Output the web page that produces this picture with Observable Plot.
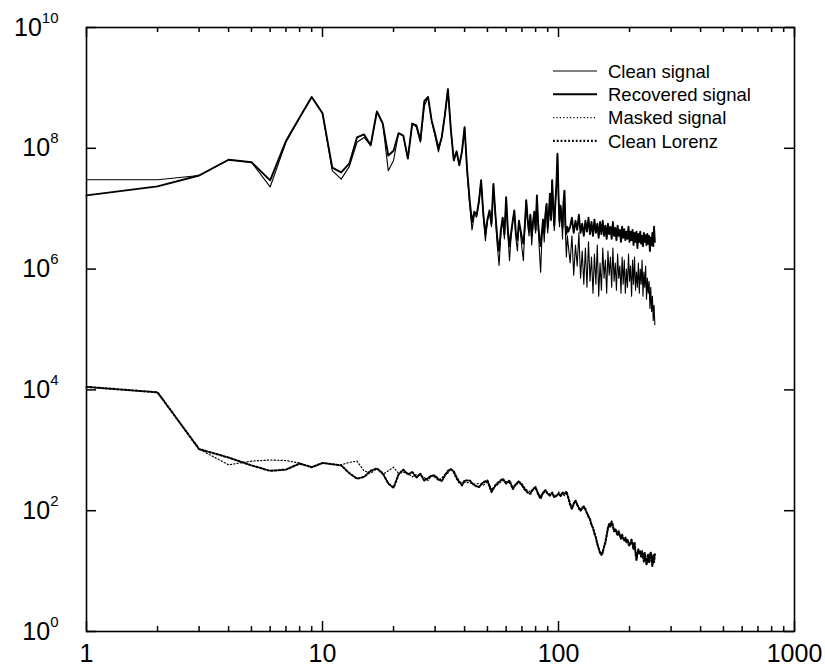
<!DOCTYPE html>
<html>
<head>
<meta charset="utf-8">
<script src="https://cdn.jsdelivr.net/npm/d3@7"></script>
<script src="https://cdn.jsdelivr.net/npm/@observablehq/plot@0.6"></script>
<style>
  html, body { margin: 0; padding: 0; background: #fff; }
  #chart svg { display: block; }
</style>
</head>
<body>
<div id="chart"></div>
<script>
// ---------------- DATA (values stored as log10 of power) ----------------
const upperFreq = [
  1,2,3,4,5,6,7,8,9,10,11,12,13,14,15,16,17,18,19,20,
  21,22,23,24,25,26,27,28,29,30,31,32,33,34,35,36,37,38,39,40,
  41,42,43,44,45,46,47,48,49,50,51,52,53,54,55,56,57,58,59,60,
  61,62,63,64,65,66,67,68,69,70,71,72,73,74,75,76,77,78,79,80,
  81,82,83,84,85,86,87,88,89,90,91,92,93,94,95,96,97,98,99,100,
  101,102,103,104,105,106,107,108,109,110,
  112,114,116,118,120,122,124,126,128,130,132,134,136,138,140,142,144,146,148,150,
  152,154,156,158,160,162,164,166,168,170,172,174,176,178,180,182,184,186,188,190,
  192,194,196,198,200,202,204,206,208,210,212,214,216,218,220,222,224,226,228,230,
  232,234,236,238,240,242,244,246,248,250,252,254,256
];
const cleanSignalLog = [
  7.48,7.48,7.55,7.81,7.77,7.36,8.10,8.51,8.85,8.58,7.63,7.49,7.70,8.10,8.18,8.05,8.61,8.41,7.63,7.80,
  8.25,8.21,7.83,8.41,8.35,8.10,8.70,8.85,8.46,8.20,7.94,8.18,8.55,8.98,8.30,7.80,7.95,7.72,7.95,8.35,
  7.60,7.09,6.65,6.90,6.86,7.10,7.47,6.90,6.47,6.80,6.97,6.70,7.41,6.90,6.40,6.06,6.60,6.85,6.50,7.19,
  6.60,6.14,6.55,6.80,6.97,6.50,6.30,6.80,6.60,6.35,6.14,6.70,7.14,6.80,6.55,6.90,6.40,6.75,6.95,6.60,
  7.22,6.70,6.30,5.95,6.50,6.80,6.45,6.90,7.08,6.60,6.90,7.25,6.80,7.47,7.00,6.64,7.10,7.40,7.91,7.20,
  6.70,7.05,6.86,6.50,7.10,7.30,6.60,6.20,6.55,6.40,
  6.10,6.55,5.90,6.40,6.05,6.60,5.85,6.30,5.75,6.35,5.70,6.45,5.80,6.20,5.60,6.25,5.75,6.40,5.55,6.10,
  5.65,6.35,5.85,6.15,5.60,6.30,5.90,6.20,5.70,6.35,5.80,6.10,5.65,6.25,5.85,6.05,5.60,6.20,5.75,6.15,
  5.60,6.00,5.70,6.25,5.80,6.05,5.55,6.15,5.75,6.20,5.65,5.95,5.70,6.10,5.60,6.00,5.75,6.15,5.55,5.95,
  5.70,6.05,5.50,5.85,5.60,5.80,5.35,5.70,5.30,5.55,5.15,5.40,5.08
];
const recoveredSignalLog = [
  7.22,7.37,7.55,7.81,7.77,7.47,8.12,8.51,8.85,8.58,7.68,7.60,7.75,8.18,8.23,8.05,8.61,8.41,7.88,7.96,
  8.25,8.21,7.83,8.41,8.38,8.13,8.78,8.85,8.46,8.24,8.00,8.18,8.55,8.98,8.30,7.80,7.95,7.72,7.95,8.35,
  7.65,7.15,6.78,6.95,6.90,7.12,7.47,6.92,6.58,6.82,6.97,6.75,7.41,6.92,6.52,6.30,6.65,6.85,6.58,7.19,
  6.65,6.38,6.60,6.80,6.97,6.58,6.48,6.80,6.65,6.52,6.42,6.72,7.14,6.82,6.62,6.90,6.55,6.78,6.95,6.65,
  7.22,6.75,6.52,6.38,6.60,6.82,6.60,6.90,7.08,6.68,6.90,7.25,6.82,7.47,7.02,6.72,7.10,7.40,7.91,7.22,
  6.78,7.05,6.88,6.68,7.10,7.30,6.72,6.58,6.70,6.62,
  6.70,6.85,6.60,6.80,6.65,6.90,6.60,6.75,6.55,6.80,6.62,6.85,6.58,6.78,6.55,6.82,6.60,6.75,6.52,6.78,
  6.58,6.80,6.55,6.72,6.50,6.75,6.58,6.70,6.50,6.78,6.55,6.68,6.48,6.72,6.55,6.65,6.45,6.70,6.52,6.66,
  6.48,6.62,6.50,6.70,6.45,6.62,6.48,6.65,6.40,6.60,6.45,6.62,6.35,6.58,6.45,6.62,6.42,6.55,6.38,6.60,
  6.45,6.56,6.40,6.58,6.42,6.55,6.30,6.52,6.40,6.60,6.38,6.70,6.45
];

const lowerFreq = [
  1,2,3,4,5,6,7,8,9,10,11,12,13,14,15,16,17,18,19,20,
  21,22,23,24,25,26,27,28,29,30,31,32,33,34,35,36,37,38,39,40,
  42,44,46,48,50,52,54,56,58,60,62,64,66,68,70,72,74,76,78,80,
  82,84,86,88,90,92,94,96,98,100,102,104,106,108,110,112,114,116,118,120,
  122,124,126,128,130,132,134,136,138,140,142,144,146,148,150,152,154,156,158,160,
  162,164,166,168,170,172,174,176,178,180,182,184,186,188,190,192,194,196,198,200,
  202,204,206,208,210,212,214,216,218,220,222,224,226,228,230,232,234,236,238,240,
  242,244,246,248,250,252,254,256
];
const cleanLorenzLog = [
  4.05,3.96,3.02,2.88,2.75,2.66,2.68,2.78,2.72,2.79,2.77,2.75,2.62,2.53,2.56,2.66,2.70,2.62,2.45,2.38,
  2.60,2.68,2.60,2.64,2.55,2.61,2.50,2.54,2.58,2.58,2.52,2.49,2.58,2.66,2.69,2.65,2.55,2.48,2.42,2.50,
  2.50,2.42,2.39,2.47,2.50,2.31,2.42,2.48,2.53,2.45,2.50,2.36,2.44,2.49,2.42,2.35,2.30,2.28,2.36,2.39,
  2.27,2.20,2.30,2.34,2.28,2.25,2.30,2.22,2.25,2.28,2.24,2.30,2.27,2.32,2.22,2.10,2.03,2.12,2.17,2.10,
  2.05,2.00,2.05,2.07,2.02,1.96,1.90,1.86,1.76,1.72,1.62,1.56,1.45,1.38,1.30,1.27,1.32,1.40,1.48,1.60,
  1.72,1.78,1.74,1.82,1.76,1.66,1.70,1.64,1.60,1.66,1.58,1.55,1.60,1.54,1.50,1.56,1.48,1.52,1.45,1.42,
  1.48,1.52,1.44,1.36,1.48,1.30,1.18,1.30,1.36,1.28,1.34,1.24,1.32,1.26,1.16,1.30,1.22,1.10,1.20,1.28,
  1.14,1.24,1.32,1.18,1.08,1.26,1.15,1.28
];
const maskedSignalLog = [
  4.05,3.96,3.02,2.76,2.82,2.84,2.83,2.79,2.72,2.79,2.77,2.76,2.80,2.82,2.66,2.62,2.70,2.60,2.66,2.72,
  2.62,2.64,2.62,2.56,2.60,2.58,2.55,2.50,2.58,2.55,2.50,2.54,2.60,2.62,2.69,2.62,2.52,2.45,2.46,2.47,
  2.46,2.44,2.45,2.42,2.48,2.36,2.40,2.45,2.50,2.48,2.46,2.40,2.42,2.47,2.45,2.38,2.33,2.32,2.34,2.36,
  2.30,2.24,2.28,2.32,2.30,2.27,2.28,2.26,2.23,2.31,2.27,2.28,2.25,2.30,2.20,2.14,2.06,2.10,2.14,2.12,
  2.02,2.04,2.02,2.05,2.06,1.94,1.93,1.84,1.80,1.70,1.66,1.54,1.48,1.36,1.33,1.30,1.28,1.43,1.45,1.56,
  1.68,1.74,1.80,1.78,1.72,1.70,1.66,1.68,1.62,1.63,1.60,1.52,1.57,1.56,1.53,1.52,1.50,1.49,1.48,1.45,
  1.44,1.50,1.46,1.40,1.44,1.34,1.22,1.26,1.32,1.30,1.30,1.28,1.35,1.22,1.20,1.26,1.25,1.14,1.16,1.24,
  1.18,1.20,1.28,1.22,1.12,1.22,1.20,1.24
];

const xMajorTicks = [1, 10, 100, 1000];
const xMinorTicks = [2,3,4,5,6,7,8,9,20,30,40,50,60,70,80,90,200,300,400,500,600,700,800,900];
const yMajorExponents = [0, 2, 4, 6, 8, 10];
const legendLabels = ["Clean signal", "Recovered signal", "Masked signal", "Clean Lorenz"];

// ---------------- TABLES ----------------
const upper = upperFreq.map((f, i) => ({f, clean: 10 ** cleanSignalLog[i], rec: 10 ** recoveredSignalLog[i]}));
const lower = lowerFreq.map((f, i) => ({f, lorenz: 10 ** cleanLorenzLog[i], masked: 10 ** maskedSignalLog[i]}));
const yMajorTicks = yMajorExponents.map(e => 10 ** e);

const styles = [
  {strokeWidth: 1.1, strokeDasharray: null},
  {strokeWidth: 1.9, strokeDasharray: null},
  {strokeWidth: 1.2, strokeDasharray: "1.2 2.2"},
  {strokeWidth: 2.1, strokeDasharray: "1.8 2"}
];

const font = "'Liberation Sans', Arial, Helvetica, sans-serif";

const W = 825, H = 666, ML = 86, MR = 31, MT = 27, MB = 35;
const frameW = W - ML - MR, frameH = H - MT - MB;

// inward ticks: tickX / tickY spanning the frame, inset so only a short stub remains at one edge
const tickX = (values, side, len) => Plot.tickX(values, {
  x: d => d, stroke: "black", strokeWidth: 1.5,
  insetTop: side === "bottom" ? frameH - len : 0,
  insetBottom: side === "top" ? frameH - len : 0
});
const tickY = (values, side, len) => Plot.tickY(values, {
  y: d => d, stroke: "black", strokeWidth: 1.5,
  insetRight: side === "left" ? frameW - len : 0,
  insetLeft: side === "right" ? frameW - len : 0
});

const svg = Plot.plot({
  width: W,
  height: H,
  marginLeft: ML,
  marginRight: MR,
  marginTop: MT,
  marginBottom: MB,
  style: {fontFamily: font, background: "white", color: "black"},
  x: {type: "log", domain: [1, 1000], axis: null},
  y: {type: "log", domain: [1, 1e10], axis: null},
  marks: [
    // series
    Plot.line(lower, {x: "f", y: "masked", stroke: "black", ...styles[2]}),
    Plot.line(lower, {x: "f", y: "lorenz", stroke: "black", ...styles[3]}),
    Plot.line(upper, {x: "f", y: "clean", stroke: "black", ...styles[0]}),
    Plot.line(upper, {x: "f", y: "rec", stroke: "black", ...styles[1]}),
    // inward ticks on all four sides
    tickX(xMajorTicks, "bottom", 10),
    tickX(xMinorTicks, "bottom", 5),
    tickX(xMajorTicks, "top", 10),
    tickX(xMinorTicks, "top", 5),
    tickY(yMajorTicks, "left", 10),
    tickY(yMajorTicks, "right", 10),
    // tick labels
    Plot.axisX({ticks: xMajorTicks, anchor: "bottom", tickSize: 0, tickPadding: 13, fontSize: 25,
                tickFormat: d => String(d), label: null}),
    Plot.axisY({ticks: yMajorTicks, anchor: "left", tickSize: 0, tickPadding: 28, fontSize: 25,
                tickFormat: d => "10^" + Math.round(Math.log10(d)), label: null}),
    Plot.frame({stroke: "black", strokeWidth: 1.6})
  ]
});

// superscript exponents on y tick labels
d3.select(svg).selectAll('g[aria-label="y-axis tick label"] text').each(function () {
  const parts = this.textContent.split("^");
  if (parts.length !== 2) return;
  const t = d3.select(this);
  t.text(null);
  t.append("tspan").text(parts[0]);
  t.append("tspan").attr("dy", -13).attr("font-size", 15).text(parts[1]);
});

// legend (inside the plot, top right)
const lg = d3.select(svg).append("g")
  .attr("font-family", font).attr("font-size", 18.5).attr("text-anchor", "start");
legendLabels.forEach((lab, i) => {
  const y = 71 + i * 23.3;
  lg.append("line").attr("x1", 553).attr("x2", 597).attr("y1", y).attr("y2", y)
    .attr("stroke", "black").attr("stroke-width", styles[i].strokeWidth)
    .attr("stroke-dasharray", styles[i].strokeDasharray);
  lg.append("text").attr("x", 608).attr("y", y).attr("dy", "0.36em")
    .attr("text-anchor", "start").attr("fill", "black").text(lab);
});

document.getElementById("chart").appendChild(svg);
</script>
</body>
</html>
